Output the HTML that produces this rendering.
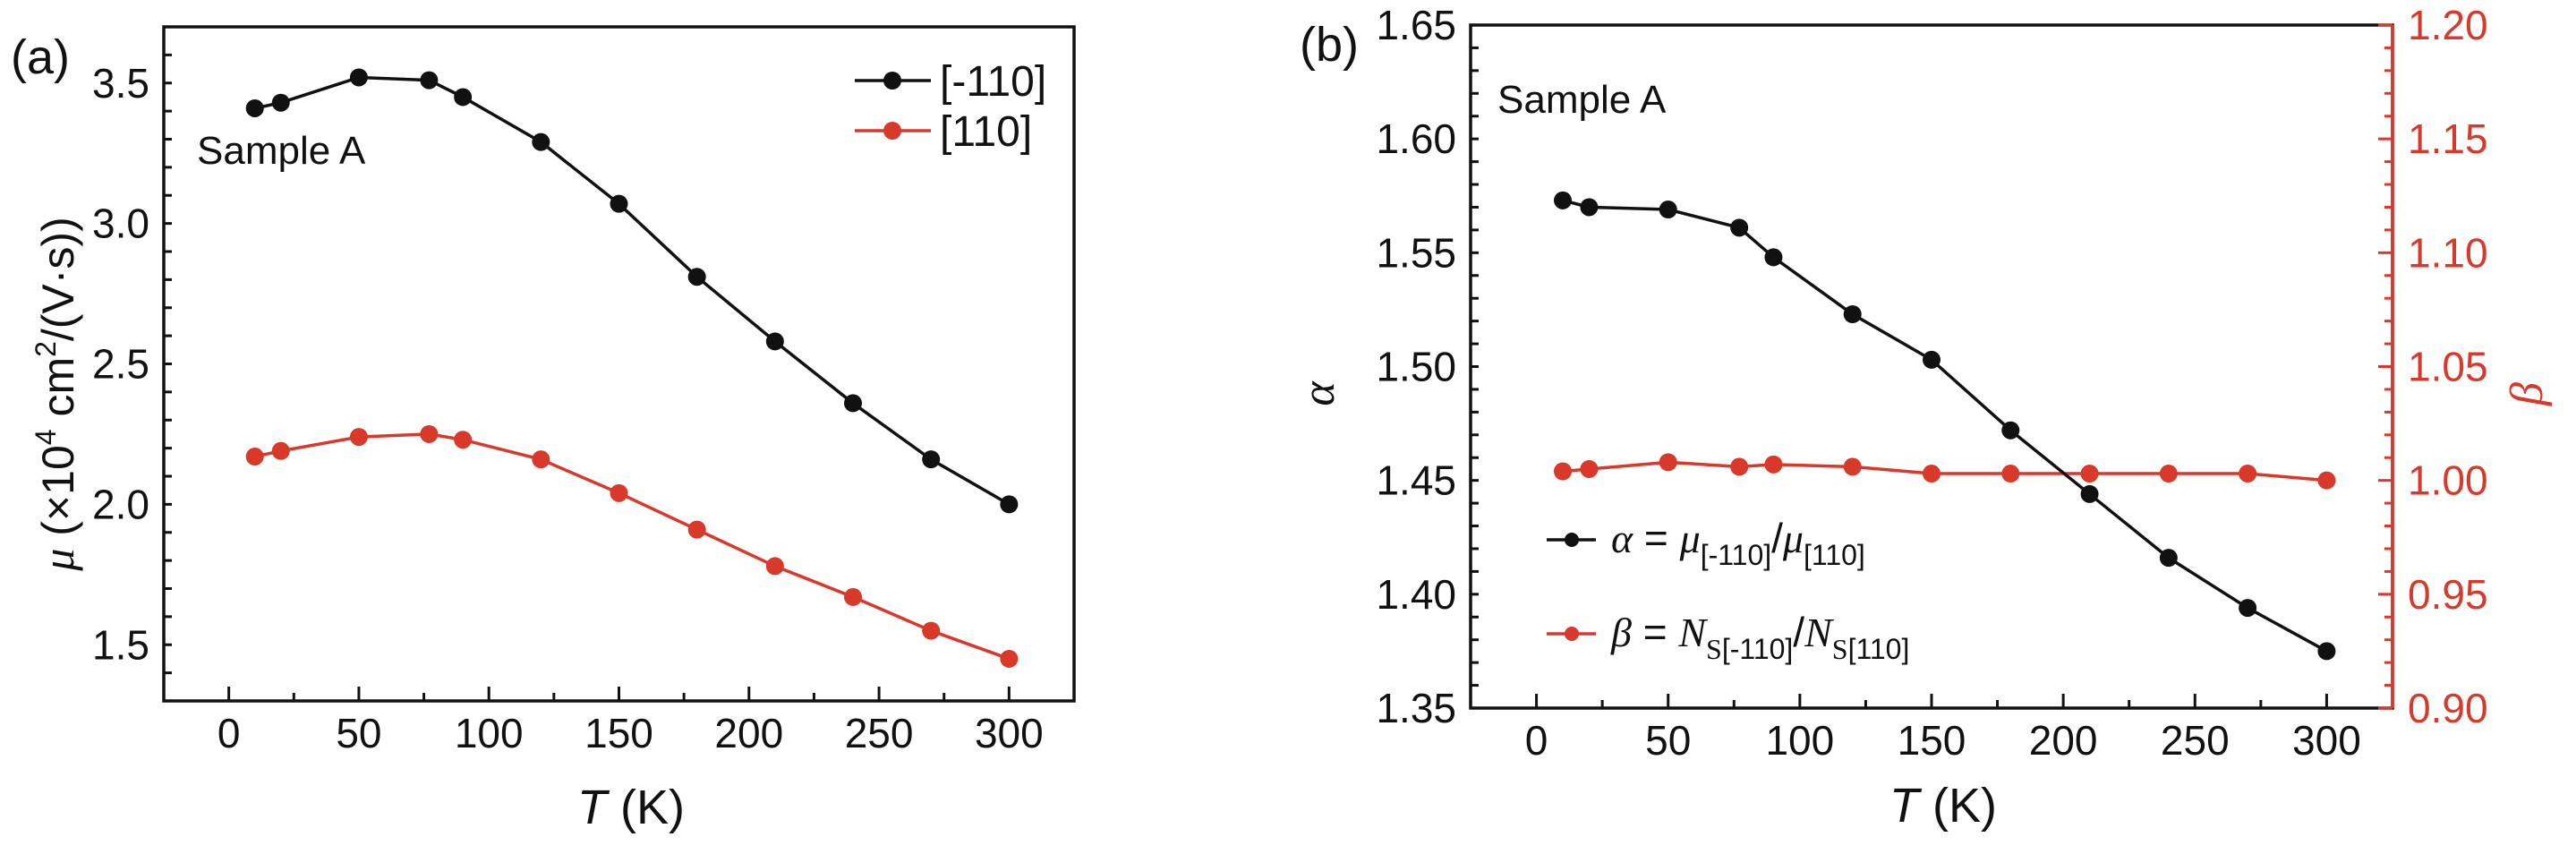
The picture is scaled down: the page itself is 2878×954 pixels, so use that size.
<!DOCTYPE html>
<html><head><meta charset="utf-8"><style>
html,body{margin:0;padding:0;background:#fff;}
svg{display:block;font-family:"Liberation Sans Narrow","Liberation Sans",sans-serif;}
</style></head><body>
<svg id="c" width="2878" height="954" viewBox="0 0 2878 954" xmlns="http://www.w3.org/2000/svg"></svg>
<script>
const temps = [10,20,50,77,90,120,150,180,210,240,270,300];
const muM110 = [3.41,3.43,3.52,3.51,3.45,3.29,3.07,2.81,2.58,2.36,2.16,2.00];
const mu110 = [2.17,2.19,2.24,2.25,2.23,2.16,2.04,1.91,1.78,1.67,1.55,1.45];
const alphaVals = [1.573,1.570,1.569,1.561,1.548,1.523,1.503,1.472,1.444,1.416,1.394,1.375];
const betaVals = [1.004,1.005,1.008,1.006,1.007,1.006,1.003,1.003,1.003,1.003,1.003,1.000];
const xTicks = [0,50,100,150,200,250,300];
const yTicksA = ["1.5","2.0","2.5","3.0","3.5"];
const yTicksB = ["1.35","1.40","1.45","1.50","1.55","1.60","1.65"];
const yTicksBeta = ["0.90","0.95","1.00","1.05","1.10","1.15","1.20"];

const NS="http://www.w3.org/2000/svg";
const svg=document.getElementById('c');
function mk(tag,attrs,parent,text){const e=document.createElementNS(NS,tag);for(const k in attrs)e.setAttribute(k,attrs[k]);if(text!==undefined)e.textContent=text;(parent||svg).appendChild(e);return e;}
const RED="#d9392b";

function panel(o){
  const g=mk('g',{});
  
  
  const xs=v=>o.L+(v-(-25))/(350)*(o.R-o.L);
  const ys=v=>o.B-(v-o.ymin)/(o.ymax-o.ymin)*(o.B-o.T);
  // x ticks
  for(let v=0;v<=300;v+=25){
    const t=mk('line',{x1:xs(v),x2:xs(v),y1:o.B,y2:o.B-(v%50===0?16:9),stroke:'#111','stroke-width':3},g);
    
    
  }
  xTicks.forEach(v=>{
    const t=mk('text',{x:xs(v),y:o.B+52,'font-size':46,'text-anchor':'middle',fill:'#111'},g,String(v));
    
    
  });
  // y ticks left
  for(let v=o.ymin;v<=o.ymax+1e-9;v+=o.minor){
    const yy=ys(v);
    const t=mk('line',{x1:o.L,x2:o.L+9,y1:yy,y2:yy,stroke:'#111','stroke-width':3},g);
    
    
  }
  o.yLabels.forEach(s=>{
    const t=mk('text',{x:o.L-16,y:ys(parseFloat(s))+16,'font-size':46,'text-anchor':'end',fill:'#111'},g,s);
    
    
  });
  // frame
  const f=mk('rect',{x:o.L,y:o.T,width:o.R-o.L,height:o.B-o.T,fill:'none',stroke:'#111','stroke-width':3.5},g);
  
  
  return {g,xs,ys};
}
function series(g,xs,ys,vals,color,name){
  const pts=temps.map((t,i)=>xs(t)+','+ys(vals[i])).join(' ');
  const l=mk('polyline',{points:pts,fill:'none',stroke:color,'stroke-width':3.5},g);
  
  
  temps.forEach((t,i)=>{
    const c=mk('circle',{cx:xs(t),cy:ys(vals[i]),r:10,fill:color},g);
    
    
  });
}

// Panel A
const A=panel({name:'panel-a',L:183,R:1200,T:30,B:783,ymin:1.3,ymax:3.7,minor:0.1,yLabels:yTicksA});
series(A.g,A.xs,A.ys,muM110,'#111','series-m110');
series(A.g,A.xs,A.ys,mu110,RED,'series-110');
let t;
t=mk('text',{x:12,y:82,'font-size':54,fill:'#111'},svg,'(a)');
t=mk('text',{x:220,y:183,'font-size':44,fill:'#111'},svg,'Sample A');
// legend A
[[90,'#111','[-110]'],[146,RED,'[110]']].forEach(([y,c,s])=>{
  const l=mk('line',{x1:955,x2:1040,y1:y,y2:y,stroke:c,'stroke-width':3.5});
  const d=mk('circle',{cx:997,cy:y,r:10,fill:c});
  const tx=mk('text',{x:1050,y:y+17,'font-size':48,fill:'#111'},svg,s);
});
t=mk('text',{transform:'translate(82,440) rotate(-90)','font-size':50,'text-anchor':'middle',fill:'#111','font-family':'Liberation Sans, sans-serif'},svg);

t.innerHTML='<tspan font-family="Liberation Serif" font-style="italic">μ</tspan> (×10<tspan dy="-20" font-size="32">4</tspan><tspan dy="20"> cm</tspan><tspan dy="-20" font-size="32">2</tspan><tspan dy="20">/(V·s))</tspan>';
t=mk('text',{x:705,y:920,'font-size':54,'text-anchor':'middle',fill:'#111'},svg);

t.innerHTML='<tspan font-style="italic">T</tspan> (K)';

// Panel B
const B=panel({name:'panel-b',L:1643,R:2673,T:28,B:791,ymin:1.35,ymax:1.65,minor:0.01,yLabels:yTicksB});
const ysBeta=v=>791-(v-0.90)/0.30*(791-28);
// right axis red
t=mk('line',{x1:2673,x2:2673,y1:28,y2:791,stroke:RED,'stroke-width':3.5});
for(let i=0;i<=30;i++){const v=0.90+i*0.01;const yy=ysBeta(v);
  const l=mk('line',{x1:2673,x2:2673-(i%5===0?16:9),y1:yy,y2:yy,stroke:RED,'stroke-width':3});}
yTicksBeta.forEach(s=>{const tx=mk('text',{x:2690,y:ysBeta(parseFloat(s))+16,'font-size':46,fill:RED},svg,s);});
series(B.g,B.xs,ysBeta,betaVals,RED,'series-beta');
series(B.g,B.xs,B.ys,alphaVals,'#111','series-alpha');
t=mk('text',{x:1452,y:68,'font-size':54,fill:'#111'},svg,'(b)');
t=mk('text',{x:1673,y:126,'font-size':44,fill:'#111'},svg,'Sample A');
t=mk('text',{transform:'translate(1490,440) rotate(-90)','font-size':52,'text-anchor':'middle',fill:'#111','font-family':'Liberation Serif, serif','font-style':'italic'},svg,'α');
t=mk('text',{transform:'translate(2840,440) rotate(-90)','font-size':52,'text-anchor':'middle',fill:RED,'font-family':'Liberation Serif, serif','font-style':'italic'},svg,'β');
t=mk('text',{x:2171,y:918,'font-size':54,'text-anchor':'middle',fill:'#111'},svg);

t.innerHTML='<tspan font-style="italic">T</tspan> (K)';
// legend B
[[603,'#111','<tspan font-family="Liberation Serif" font-style="italic">α</tspan> = <tspan font-family="Liberation Serif" font-style="italic">μ</tspan><tspan dy="14" font-size="32">[-110]</tspan><tspan dy="-14">/</tspan><tspan font-family="Liberation Serif" font-style="italic">μ</tspan><tspan dy="14" font-size="32">[110]</tspan>'],
 [708,RED,'<tspan font-family="Liberation Serif" font-style="italic">β</tspan> = <tspan font-family="Liberation Serif" font-style="italic">N</tspan><tspan dy="14" font-size="32"><tspan font-family="Liberation Serif">S</tspan>[-110]</tspan><tspan dy="-14">/</tspan><tspan font-family="Liberation Serif" font-style="italic">N</tspan><tspan dy="14" font-size="32"><tspan font-family="Liberation Serif">S</tspan>[110]</tspan>']].forEach(([y,c,h])=>{
  const l=mk('line',{x1:1728,x2:1783,y1:y,y2:y,stroke:c,'stroke-width':3.5});
  const d=mk('circle',{cx:1756,cy:y,r:8,fill:c});
  const tx=mk('text',{x:1800,y:y+14,'font-size':46,fill:'#111'},svg);tx.innerHTML=h;
});
</script>
</body></html>
